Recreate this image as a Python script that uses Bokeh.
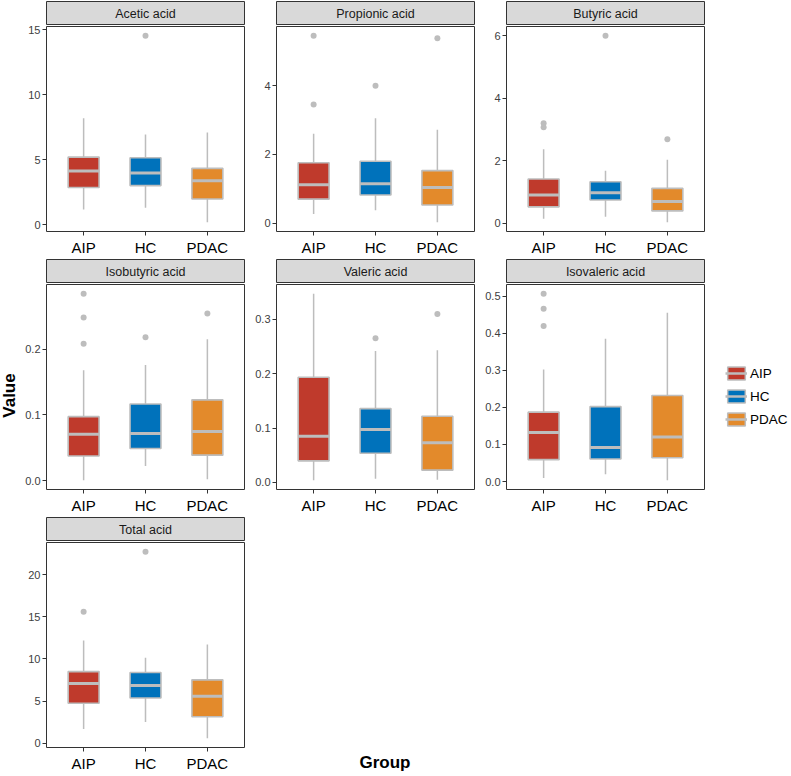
import math
from bokeh.plotting import figure
from bokeh.layouts import row, column
from bokeh.models import Range1d, FixedTicker, ColumnDataSource, Label, Legend, LegendItem
from bokeh.embed import file_html
from bokeh.resources import INLINE

# ---------------- data ----------------
groups = ["AIP", "HC", "PDAC"]
group_colors = ["#BF3A2C", "#0072BB", "#E38A2B"]
panels = ["Acetic acid", "Propionic acid", "Butyric acid", "Isobutyric acid",
          "Valeric acid", "Isovaleric acid", "Total acid"]

whisker_low = [
    [1.15, 1.30, 0.18],
    [0.27, 0.38, 0.03],
    [0.15, 0.21, 0.04],
    [0.001, 0.0226, 0.0025],
    [0.004, 0.0067, 0.005],
    [0.0098, 0.0196, 0.0036],
    [1.68, 2.50, 0.59],
]
box_q1 = [
    [2.85, 3.00, 1.97],
    [0.70, 0.82, 0.53],
    [0.53, 0.75, 0.40],
    [0.0377, 0.049, 0.039],
    [0.0396, 0.0536, 0.0225],
    [0.059, 0.0606, 0.064],
    [4.74, 5.36, 3.13],
]
box_median = [
    [4.12, 3.97, 3.37],
    [1.12, 1.15, 1.04],
    [0.91, 0.98, 0.70],
    [0.0709, 0.072, 0.075],
    [0.085, 0.0974, 0.073],
    [0.132, 0.092, 0.12],
    [7.08, 6.85, 5.56],
]
box_q3 = [
    [5.20, 5.15, 4.33],
    [1.76, 1.80, 1.53],
    [1.42, 1.33, 1.12],
    [0.0975, 0.1166, 0.123],
    [0.1935, 0.1357, 0.1217],
    [0.187, 0.202, 0.2317],
    [8.49, 8.38, 7.51],
]
whisker_high = [
    [8.20, 6.95, 7.10],
    [2.60, 3.05, 2.72],
    [2.37, 1.68, 2.03],
    [0.168, 0.176, 0.215],
    [0.347, 0.2416, 0.243],
    [0.302, 0.385, 0.455],
    [12.17, 10.14, 11.70],
]
outliers = [
    [[], [14.55], []],
    [[3.45, 5.45], [4.0], [5.38]],
    [[3.07, 3.2], [5.99], [2.69]],
    [[0.208, 0.248, 0.284], [0.218], [0.254]],
    [[], [0.265], [0.31]],
    [[0.419, 0.466, 0.506], [], []],
    [[15.6], [22.7], []],
]
y_ticks = [
    [0, 5, 10, 15],
    [0, 2, 4],
    [0, 2, 4, 6],
    [0, 0.1, 0.2],
    [0, 0.1, 0.2, 0.3],
    [0, 0.1, 0.2, 0.3, 0.4, 0.5],
    [0, 5, 10, 15, 20],
]
y_tick_labels = [
    ["0", "5", "10", "15"],
    ["0", "2", "4"],
    ["0", "2", "4", "6"],
    ["0.0", "0.1", "0.2"],
    ["0.0", "0.1", "0.2", "0.3"],
    ["0.0", "0.1", "0.2", "0.3", "0.4", "0.5"],
    ["0", "5", "10", "15", "20"],
]
x_title = "Group"
y_title = "Value"

# ---------------- styling / layout constants ----------------
FONT = "Liberation Sans"
FW, FH, STRIP_H = 198, 205, 24
VAL_W = 20
LEFT_FIRST, LEFT_OTHER, BOTTOM = 26, 31, 27
BOX_W = 0.5
EDGE = "#BDBDBD"
BORDER = "#333333"
xs = list(range(1, len(groups) + 1))


def blank(width, height, xr=(0, 1)):
    f = figure(title=None, frame_width=width, frame_height=height, min_border=0,
               x_range=Range1d(*xr), y_range=Range1d(0, 1),
               x_axis_location=None, y_axis_location=None,
               toolbar_location=None, output_backend="svg",
               outline_line_color=None, border_fill_color="white",
               background_fill_color="white")
    f.grid.visible = False
    return f


def make_strip(i):
    left = LEFT_FIRST if i % 3 == 0 else LEFT_OTHER
    s = figure(title=None, frame_width=FW, frame_height=STRIP_H, min_border_left=left,
               min_border_right=1, min_border_top=1, min_border_bottom=0,
               x_range=Range1d(0, 1), y_range=Range1d(0, 1),
               x_axis_location=None, y_axis_location=None,
               toolbar_location=None, output_backend="svg",
               background_fill_color="#D9D9D9", border_fill_color="white",
               outline_line_color=BORDER, outline_line_width=1)
    s.grid.visible = False
    s.add_layout(Label(x=0.5, y=0.5, text=panels[i], text_align="center",
                       text_baseline="middle", text_font=FONT,
                       text_font_size="12.5px", text_color="#1A1A1A"))
    return s


def make_panel(i):
    left = LEFT_FIRST if i % 3 == 0 else LEFT_OTHER
    outs = [v for o in outliers[i] for v in o]
    lo_all = min(whisker_low[i] + outs)
    hi_all = max(whisker_high[i] + outs)
    pad = 0.05 * (hi_all - lo_all)
    p = figure(title=None, frame_width=FW, frame_height=FH, min_border_left=left,
               min_border_right=1, min_border_top=1, min_border_bottom=BOTTOM,
               x_range=Range1d(0.4, len(groups) + 0.6),
               y_range=Range1d(lo_all - pad, hi_all + pad),
               toolbar_location=None, output_backend="svg",
               background_fill_color="white", border_fill_color="white",
               outline_line_color=BORDER, outline_line_width=1)
    p.grid.visible = False

    src = ColumnDataSource(dict(
        x=xs, x0=[x - BOX_W / 2 for x in xs], x1=[x + BOX_W / 2 for x in xs],
        lo=whisker_low[i], q1=box_q1[i], med=box_median[i], q3=box_q3[i],
        hi=whisker_high[i], color=group_colors))
    p.segment(x0="x", y0="lo", x1="x", y1="hi", source=src,
              line_color=EDGE, line_width=1.5)
    p.vbar(x="x", width=BOX_W, bottom="q1", top="q3", source=src,
           fill_color="color", line_color=EDGE, line_width=1.6)
    p.segment(x0="x0", y0="med", x1="x1", y1="med", source=src,
              line_color=EDGE, line_width=3)
    ox = [x for x, o in zip(xs, outliers[i]) for _ in o]
    if outs:
        p.scatter(x=ox, y=outs, size=6, fill_color=EDGE, line_color=None)

    xa = p.xaxis[0]
    xa.ticker = FixedTicker(ticks=xs)
    xa.major_label_overrides = {x: g for x, g in zip(xs, groups)}
    xa.axis_line_color = None
    xa.major_tick_out = 4
    xa.major_tick_in = 0
    xa.minor_tick_line_color = None
    xa.major_tick_line_color = BORDER
    xa.major_label_standoff = 3
    xa.major_label_text_font = FONT
    xa.major_label_text_font_size = "15px"
    xa.major_label_text_color = "black"

    ya = p.yaxis[0]
    ya.ticker = FixedTicker(ticks=y_ticks[i])
    ya.major_label_overrides = {t: l for t, l in zip(y_ticks[i], y_tick_labels[i])}
    ya.axis_line_color = None
    ya.major_tick_out = 4
    ya.major_tick_in = 0
    ya.minor_tick_line_color = None
    ya.major_tick_line_color = BORDER
    ya.major_label_standoff = 2
    ya.major_label_text_font = FONT
    ya.major_label_text_font_size = "11px"
    ya.major_label_text_color = "#404040"
    return p


cells = [column(make_strip(i), make_panel(i)) for i in range(len(panels))]
ROW_H = 1 + STRIP_H + 1 + FH + BOTTOM
TOTAL_H = 3 * ROW_H

# "Value" title (left strip)
vfig = blank(VAL_W, TOTAL_H)
vfig.add_layout(Label(x=0.45, y=(TOTAL_H - 395) / TOTAL_H, text=y_title,
                      angle=math.pi / 2, text_align="center", text_baseline="middle",
                      text_font=FONT, text_font_size="17px", text_font_style="bold",
                      text_color="black"))

# "Group" title (right of the last panel)
GW = 2 * (LEFT_OTHER + FW + 1)
gfig = blank(GW, ROW_H)
gfig.add_layout(Label(x=(384.5 - (VAL_W + LEFT_FIRST + FW + 1)) / GW,
                      y=12.5 / ROW_H,
                      text=x_title, text_align="center", text_baseline="middle",
                      text_font=FONT, text_font_size="17px", text_font_style="bold",
                      text_color="black"))

# Legend figure
LEG_W = 85
lfig = blank(LEG_W, TOTAL_H, xr=(0.4, len(groups) + 0.6))
lsrc = ColumnDataSource(dict(
    x=xs, x0=[x - BOX_W / 2 for x in xs], x1=[x + BOX_W / 2 for x in xs],
    q1=box_q1[0], med=box_median[0], q3=box_q3[0], color=group_colors))
rb = lfig.vbar(x="x", width=BOX_W, bottom="q1", top="q3", source=lsrc,
               fill_color="color", line_color=EDGE, line_width=1.5, visible=False)
rm = lfig.segment(x0="x0", y0="med", x1="x1", y1="med", source=lsrc,
                  line_color=EDGE, line_width=2.5, visible=False)
items = [LegendItem(label=g, renderers=[rb, rm], index=k) for k, g in enumerate(groups)]
legend = Legend(items=items, location=(20, TOTAL_H - 396 - 31), padding=0, margin=0,
                spacing=7, glyph_width=22, glyph_height=16, label_height=16,
                label_standoff=3, label_text_font=FONT, label_text_font_size="13.5px",
                label_text_color="black", border_line_color=None,
                background_fill_alpha=0)
lfig.add_layout(legend)

layout = row(
    vfig,
    column(
        row(cells[0], cells[1], cells[2]),
        row(cells[3], cells[4], cells[5]),
        row(cells[6], gfig),
    ),
    lfig,
)

open("out.html", "w").write(file_html(layout, INLINE))
